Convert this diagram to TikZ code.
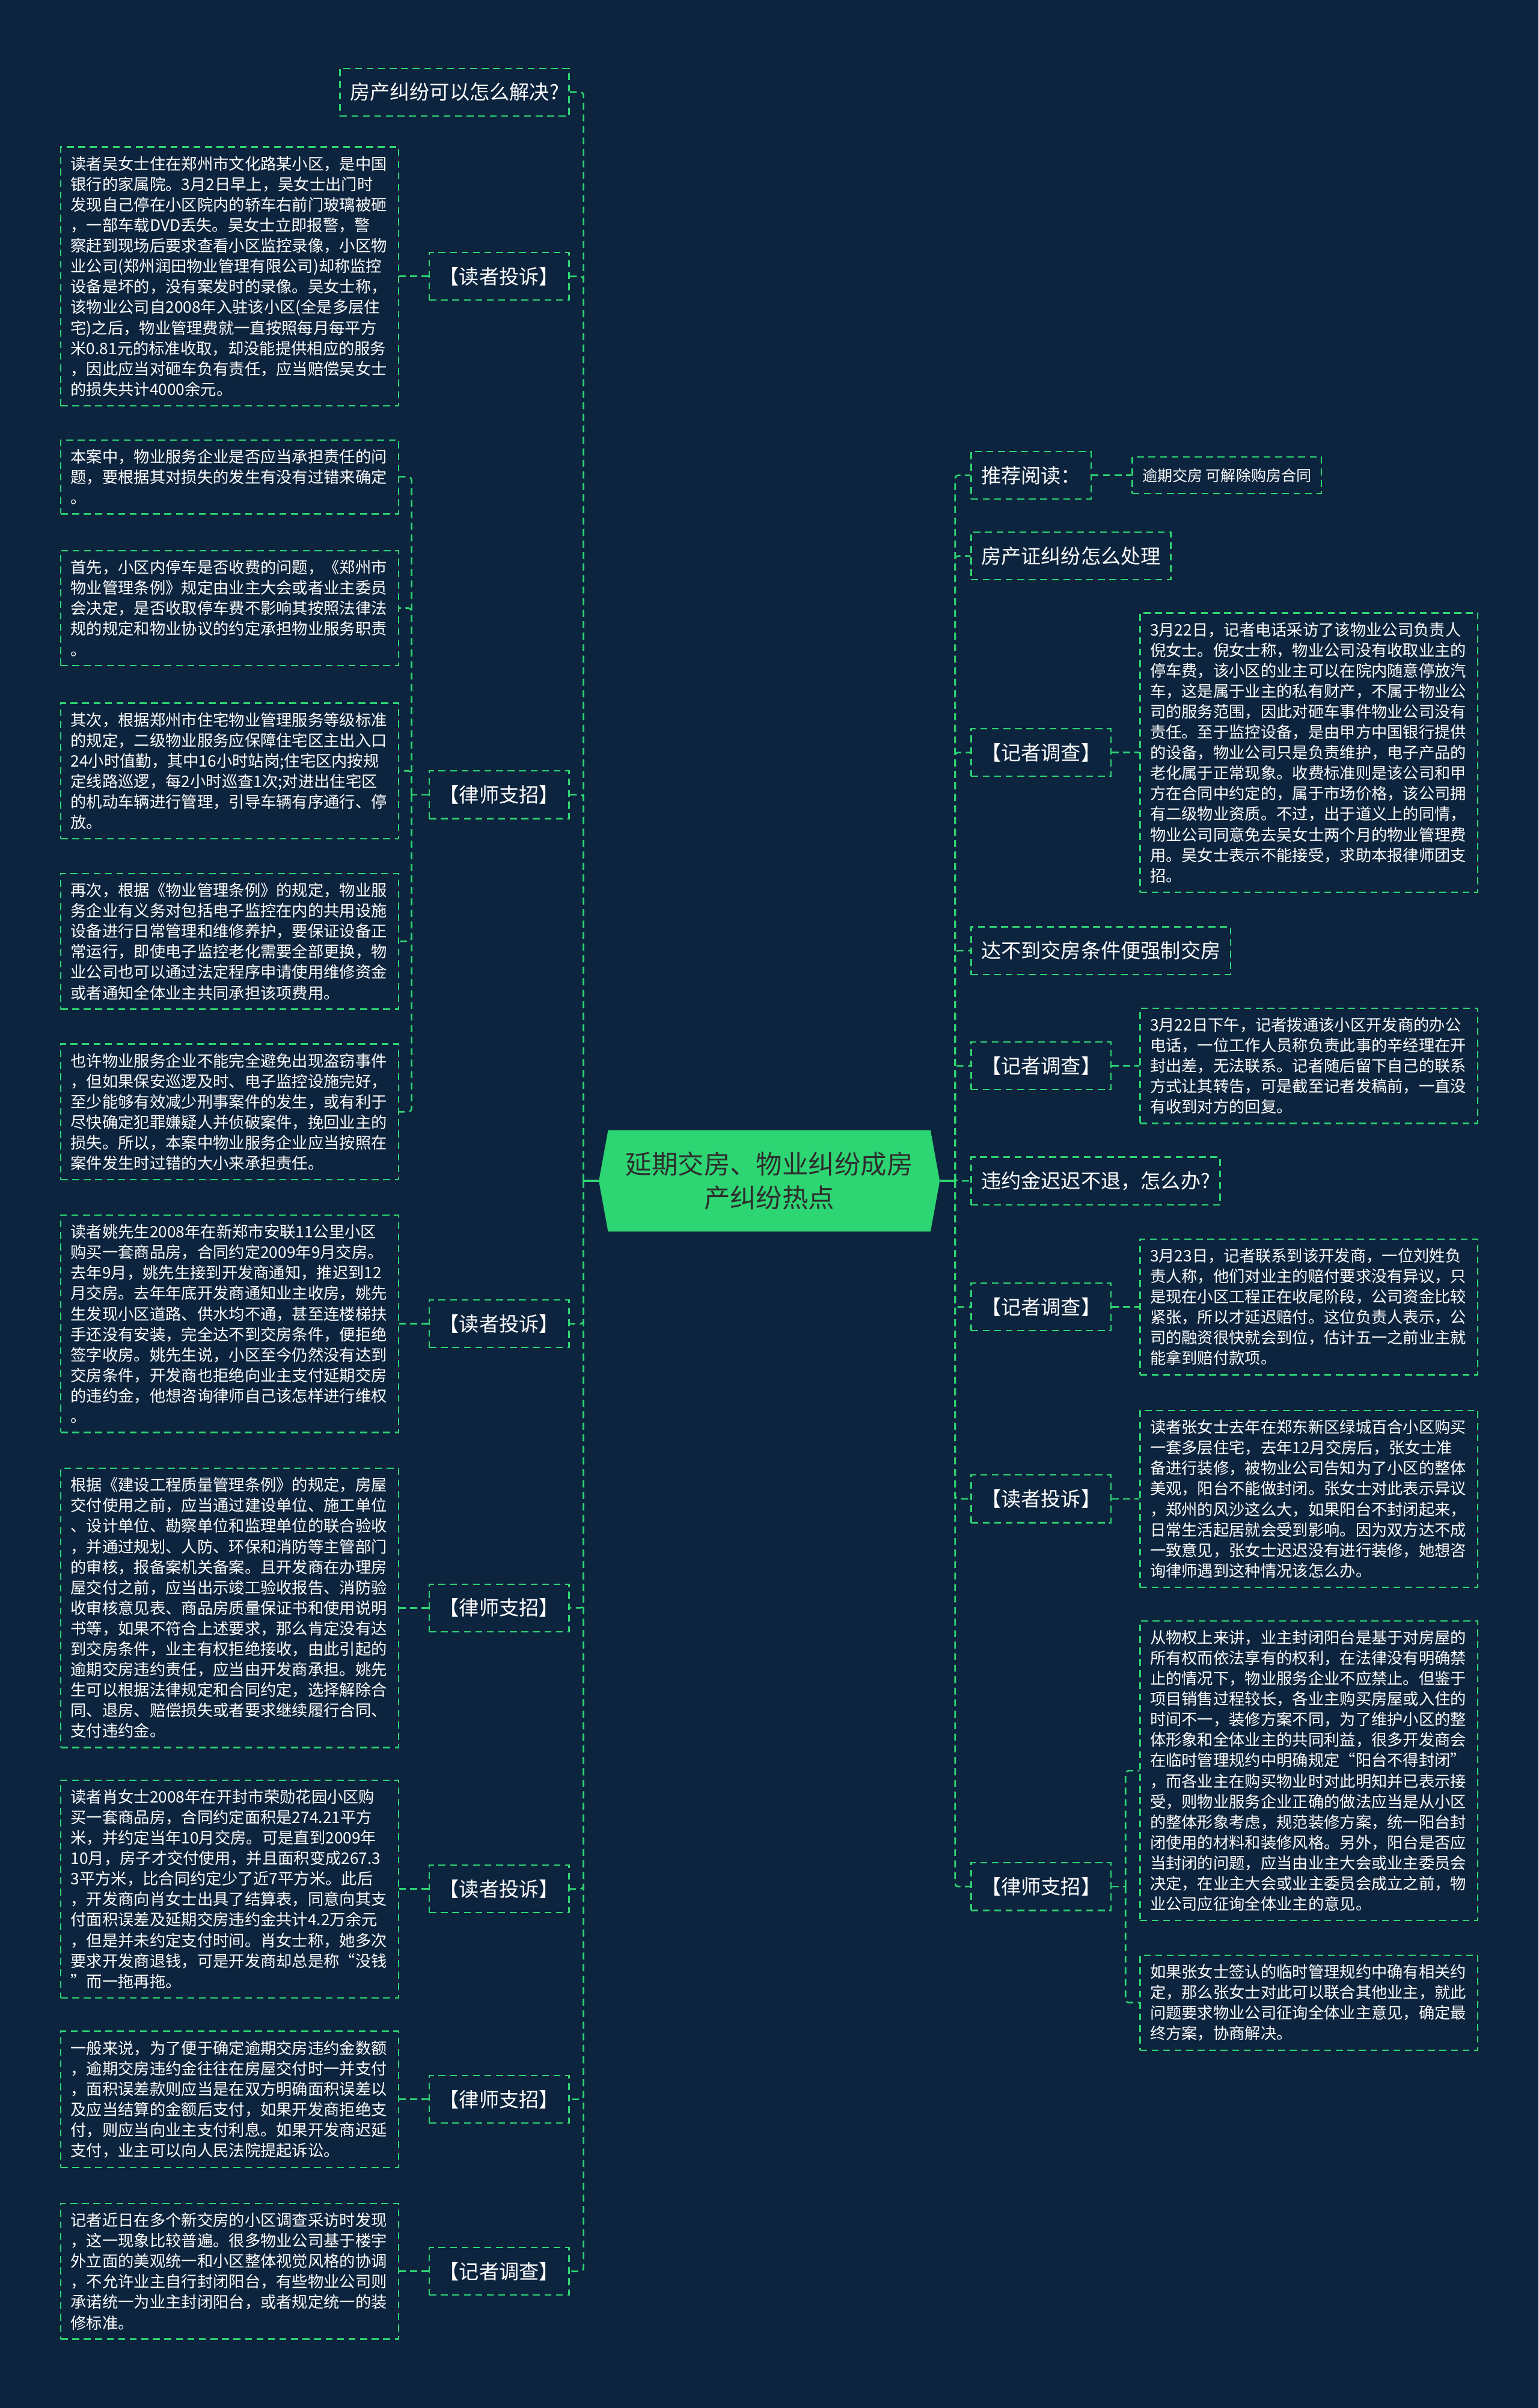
\documentclass[tikz,border=0pt]{standalone}
\usepackage{fontspec}
\setmainfont{Noto Sans CJK SC}
\usepackage{tikz}
\definecolor{navy}{RGB}{13,36,62}
\definecolor{leaf}{RGB}{46,213,115}
\definecolor{ink}{RGB}{45,45,45}
\tikzset{
  link/.style={leaf, line width=1pt, dash pattern=on 4.5pt off 3pt, rounded corners=2pt},
  stem/.style={leaf, line width=1.6pt},
  topic/.style={draw=leaf, line width=0.9pt, dash pattern=on 4.5pt off 3pt, text=white, font=\fontsize{13}{15}\selectfont, minimum height=31pt, inner xsep=6.5pt, inner ysep=4pt},
  note/.style={draw=leaf, line width=0.9pt, dash pattern=on 4.5pt off 3pt, text=white, text width=207pt, align=left, font=\fontsize{10.3}{13.35}\selectfont, inner xsep=6.5pt, inner ysep=6pt}
}
\begin{document}
\begin{tikzpicture}[x=1pt, y=-1pt]
\fill[navy] (0,0) rectangle (1002,1568);
\useasboundingbox (0,0) rectangle (1002,1568);
\fill[leaf] (390,769) -- (396,736) -- (606,736) -- (612,769) -- (606,802) -- (396,802) -- cycle;
\node[minimum width=222pt, minimum height=66pt, align=center, text=ink, font=\fontsize{17}{22}\selectfont] (hub) at (501,769) {延期交房、物业纠纷成房\\产纠纷热点};
\coordinate (lroot) at (380,769);
\coordinate (rroot) at (622,769);
\draw[stem] (hub.west) -- (lroot);
\draw[stem] (hub.east) -- (rroot);
\node[topic, anchor=east] (lq) at (371,60) {房产纠纷可以怎么解决?};
\node[topic, anchor=east] (lwu) at (371,180) {【读者投诉】};
\node[topic, anchor=east] (lwulaw) at (371,517.5) {【律师支招】};
\node[topic, anchor=east] (lyao) at (371,862) {【读者投诉】};
\node[topic, anchor=east] (lyaolaw) at (371,1047) {【律师支招】};
\node[topic, anchor=east] (lxiao) at (371,1230) {【读者投诉】};
\node[topic, anchor=east] (lxiaolaw) at (371,1367) {【律师支招】};
\node[topic, anchor=east] (lreport) at (371,1479) {【记者调查】};
\node[note, anchor=east] (nwu) at (260,180) {读者吴女士住在郑州市文化路某小区，是中国\\银行的家属院。3月2日早上，吴女士出门时\\发现自己停在小区院内的轿车右前门玻璃被砸\\，一部车载DVD丢失。吴女士立即报警，警\\察赶到现场后要求查看小区监控录像，小区物\\业公司(郑州润田物业管理有限公司)却称监控\\设备是坏的，没有案发时的录像。吴女士称，\\该物业公司自2008年入驻该小区(全是多层住\\宅)之后，物业管理费就一直按照每月每平方\\米0.81元的标准收取，却没能提供相应的服务\\，因此应当对砸车负有责任，应当赔偿吴女士\\的损失共计4000余元。};
\node[note, anchor=east] (nlaw1) at (260,310.5) {本案中，物业服务企业是否应当承担责任的问\\题，要根据其对损失的发生有没有过错来确定\\。};
\node[note, anchor=east] (nlaw2) at (260,396) {首先，小区内停车是否收费的问题，《郑州市\\物业管理条例》规定由业主大会或者业主委员\\会决定，是否收取停车费不影响其按照法律法\\规的规定和物业协议的约定承担物业服务职责\\。};
\node[note, anchor=east] (nlaw3) at (260,502) {其次，根据郑州市住宅物业管理服务等级标准\\的规定，二级物业服务应保障住宅区主出入口\\24小时值勤，其中16小时站岗;住宅区内按规\\定线路巡逻，每2小时巡查1次;对进出住宅区\\的机动车辆进行管理，引导车辆有序通行、停\\放。};
\node[note, anchor=east] (nlaw4) at (260,613) {再次，根据《物业管理条例》的规定，物业服\\务企业有义务对包括电子监控在内的共用设施\\设备进行日常管理和维修养护，要保证设备正\\常运行，即使电子监控老化需要全部更换，物\\业公司也可以通过法定程序申请使用维修资金\\或者通知全体业主共同承担该项费用。};
\node[note, anchor=east] (nlaw5) at (260,724) {也许物业服务企业不能完全避免出现盗窃事件\\，但如果保安巡逻及时、电子监控设施完好，\\至少能够有效减少刑事案件的发生，或有利于\\尽快确定犯罪嫌疑人并侦破案件，挽回业主的\\损失。所以，本案中物业服务企业应当按照在\\案件发生时过错的大小来承担责任。};
\node[note, anchor=east] (nyao) at (260,862) {读者姚先生2008年在新郑市安联11公里小区\\购买一套商品房，合同约定2009年9月交房。\\去年9月，姚先生接到开发商通知，推迟到12\\月交房。去年年底开发商通知业主收房，姚先\\生发现小区道路、供水均不通，甚至连楼梯扶\\手还没有安装，完全达不到交房条件，便拒绝\\签字收房。姚先生说，小区至今仍然没有达到\\交房条件，开发商也拒绝向业主支付延期交房\\的违约金，他想咨询律师自己该怎样进行维权\\。};
\node[note, anchor=east] (nyaolaw) at (260,1047) {根据《建设工程质量管理条例》的规定，房屋\\交付使用之前，应当通过建设单位、施工单位\\、设计单位、勘察单位和监理单位的联合验收\\，并通过规划、人防、环保和消防等主管部门\\的审核，报备案机关备案。且开发商在办理房\\屋交付之前，应当出示竣工验收报告、消防验\\收审核意见表、商品房质量保证书和使用说明\\书等，如果不符合上述要求，那么肯定没有达\\到交房条件，业主有权拒绝接收，由此引起的\\逾期交房违约责任，应当由开发商承担。姚先\\生可以根据法律规定和合同约定，选择解除合\\同、退房、赔偿损失或者要求继续履行合同、\\支付违约金。};
\node[note, anchor=east] (nxiao) at (260,1230) {读者肖女士2008年在开封市荣勋花园小区购\\买一套商品房，合同约定面积是274.21平方\\米，并约定当年10月交房。可是直到2009年\\10月，房子才交付使用，并且面积变成267.3\\3平方米，比合同约定少了近7平方米。此后\\，开发商向肖女士出具了结算表，同意向其支\\付面积误差及延期交房违约金共计4.2万余元\\，但是并未约定支付时间。肖女士称，她多次\\要求开发商退钱，可是开发商却总是称“没钱\\”而一拖再拖。};
\node[note, anchor=east] (nxiaolaw) at (260,1367) {一般来说，为了便于确定逾期交房违约金数额\\，逾期交房违约金往往在房屋交付时一并支付\\，面积误差款则应当是在双方明确面积误差以\\及应当结算的金额后支付，如果开发商拒绝支\\付，则应当向业主支付利息。如果开发商迟延\\支付，业主可以向人民法院提起诉讼。};
\node[note, anchor=east] (nreport) at (260,1479) {记者近日在多个新交房的小区调查采访时发现\\，这一现象比较普遍。很多物业公司基于楼宇\\外立面的美观统一和小区整体视觉风格的协调\\，不允许业主自行封闭阳台，有些物业公司则\\承诺统一为业主封闭阳台，或者规定统一的装\\修标准。};
\node[topic, anchor=west] (rread) at (632,309.5) {推荐阅读：};
\node[topic, anchor=west, font=\fontsize{9.8}{12}\selectfont, minimum height=24pt] (rlink) at (737,309.5) {逾期交房 可解除购房合同};
\node[topic, anchor=west] (rcert) at (632,362) {房产证纠纷怎么处理};
\node[topic, anchor=west] (rni) at (632,490) {【记者调查】};
\node[topic, anchor=west] (rforce) at (632,619) {达不到交房条件便强制交房};
\node[topic, anchor=west] (rxin) at (632,694) {【记者调查】};
\node[topic, anchor=west] (rfine) at (632,769) {违约金迟迟不退，怎么办?};
\node[topic, anchor=west] (rliu) at (632,851) {【记者调查】};
\node[topic, anchor=west] (rzhang) at (632,976) {【读者投诉】};
\node[topic, anchor=west] (rzhanglaw) at (632,1228.5) {【律师支招】};
\node[note, anchor=west] (nni) at (742,490) {3月22日，记者电话采访了该物业公司负责人\\倪女士。倪女士称，物业公司没有收取业主的\\停车费，该小区的业主可以在院内随意停放汽\\车，这是属于业主的私有财产，不属于物业公\\司的服务范围，因此对砸车事件物业公司没有\\责任。至于监控设备，是由甲方中国银行提供\\的设备，物业公司只是负责维护，电子产品的\\老化属于正常现象。收费标准则是该公司和甲\\方在合同中约定的，属于市场价格，该公司拥\\有二级物业资质。不过，出于道义上的同情，\\物业公司同意免去吴女士两个月的物业管理费\\用。吴女士表示不能接受，求助本报律师团支\\招。};
\node[note, anchor=west] (nxin) at (742,694) {3月22日下午，记者拨通该小区开发商的办公\\电话，一位工作人员称负责此事的辛经理在开\\封出差，无法联系。记者随后留下自己的联系\\方式让其转告，可是截至记者发稿前，一直没\\有收到对方的回复。};
\node[note, anchor=west] (nliu) at (742,851) {3月23日，记者联系到该开发商，一位刘姓负\\责人称，他们对业主的赔付要求没有异议，只\\是现在小区工程正在收尾阶段，公司资金比较\\紧张，所以才延迟赔付。这位负责人表示，公\\司的融资很快就会到位，估计五一之前业主就\\能拿到赔付款项。};
\node[note, anchor=west] (nzhang) at (742,976) {读者张女士去年在郑东新区绿城百合小区购买\\一套多层住宅，去年12月交房后，张女士准\\备进行装修，被物业公司告知为了小区的整体\\美观，阳台不能做封闭。张女士对此表示异议\\，郑州的风沙这么大，如果阳台不封闭起来，\\日常生活起居就会受到影响。因为双方达不成\\一致意见，张女士迟迟没有进行装修，她想咨\\询律师遇到这种情况该怎么办。};
\node[note, anchor=west] (nzhanglaw1) at (742,1153) {从物权上来讲，业主封闭阳台是基于对房屋的\\所有权而依法享有的权利，在法律没有明确禁\\止的情况下，物业服务企业不应禁止。但鉴于\\项目销售过程较长，各业主购买房屋或入住的\\时间不一，装修方案不同，为了维护小区的整\\体形象和全体业主的共同利益，很多开发商会\\在临时管理规约中明确规定“阳台不得封闭”\\，而各业主在购买物业时对此明知并已表示接\\受，则物业服务企业正确的做法应当是从小区\\的整体形象考虑，规范装修方案，统一阳台封\\闭使用的材料和装修风格。另外，阳台是否应\\当封闭的问题，应当由业主大会或业主委员会\\决定，在业主大会或业主委员会成立之前，物\\业公司应征询全体业主的意见。};
\node[note, anchor=west] (nzhanglaw2) at (742,1304) {如果张女士签认的临时管理规约中确有相关约\\定，那么张女士对此可以联合其他业主，就此\\问题要求物业公司征询全体业主意见，确定最\\终方案，协商解决。};
\coordinate (lwuj) at (268,517.5);
\coordinate (rzj) at (733,1228.5);
\draw[link] (lroot) |- (lq.east);
\draw[link] (lroot) |- (lwu.east);
\draw[link] (lroot) |- (lwulaw.east);
\draw[link] (lroot) |- (lyao.east);
\draw[link] (lroot) |- (lyaolaw.east);
\draw[link] (lroot) |- (lxiao.east);
\draw[link] (lroot) |- (lxiaolaw.east);
\draw[link] (lroot) |- (lreport.east);
\draw[link] (lwu.west) -- (nwu.east);
\draw[link] (lwulaw.west) -- (lwuj);
\draw[link] (lwuj) |- (nlaw1.east);
\draw[link] (lwuj) |- (nlaw2.east);
\draw[link] (lwuj) |- (nlaw3.east);
\draw[link] (lwuj) |- (nlaw4.east);
\draw[link] (lwuj) |- (nlaw5.east);
\draw[link] (lyao.west) -- (nyao.east);
\draw[link] (lyaolaw.west) -- (nyaolaw.east);
\draw[link] (lxiao.west) -- (nxiao.east);
\draw[link] (lxiaolaw.west) -- (nxiaolaw.east);
\draw[link] (lreport.west) -- (nreport.east);
\draw[link] (rroot) |- (rread.west);
\draw[link] (rroot) |- (rcert.west);
\draw[link] (rroot) |- (rni.west);
\draw[link] (rroot) |- (rforce.west);
\draw[link] (rroot) |- (rxin.west);
\draw[link] (rroot) |- (rfine.west);
\draw[link] (rroot) |- (rliu.west);
\draw[link] (rroot) |- (rzhang.west);
\draw[link] (rroot) |- (rzhanglaw.west);
\draw[link] (rread.east) -- (rlink.west);
\draw[link] (rni.east) -- (nni.west);
\draw[link] (rxin.east) -- (nxin.west);
\draw[link] (rliu.east) -- (nliu.west);
\draw[link] (rzhang.east) -- (nzhang.west);
\draw[link] (rzhanglaw.east) -- (rzj);
\draw[link] (rzj) |- (nzhanglaw1.west);
\draw[link] (rzj) |- (nzhanglaw2.west);
\end{tikzpicture}
\end{document}
